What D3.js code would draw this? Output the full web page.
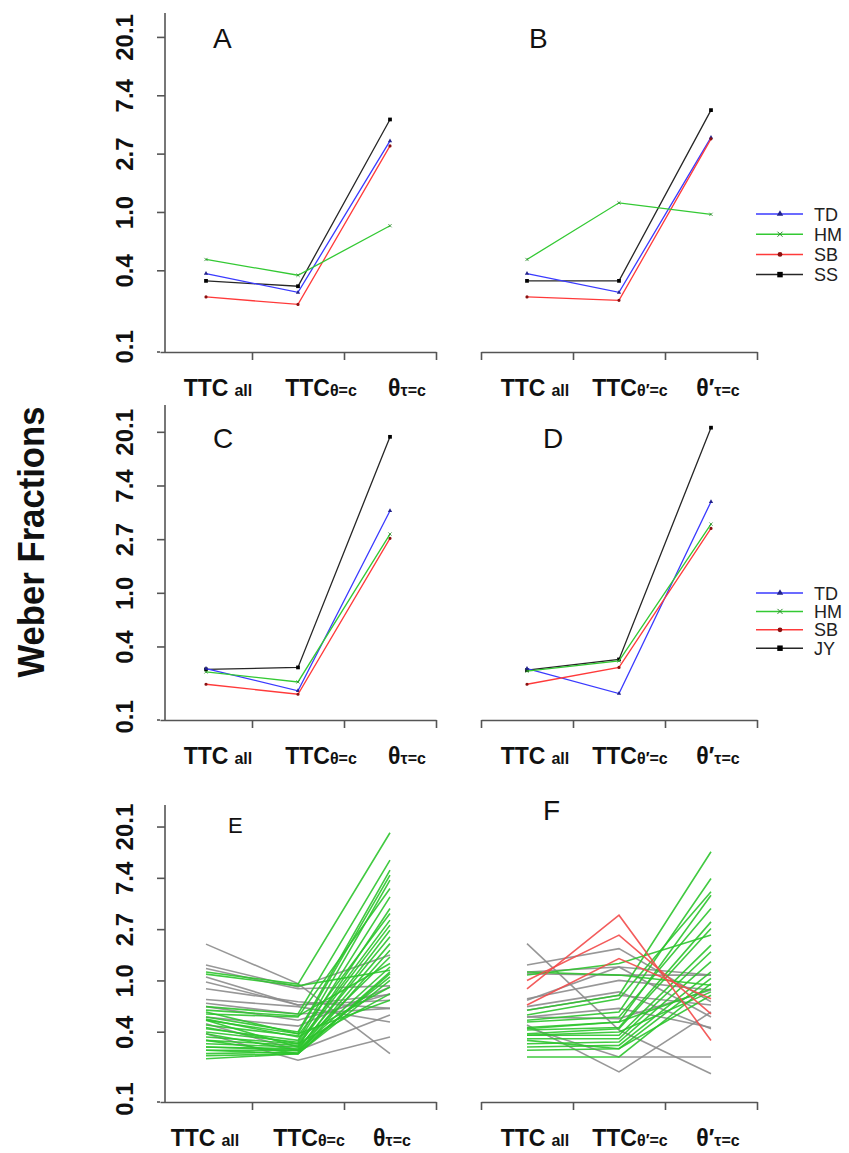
<!DOCTYPE html>
<html>
<head>
<meta charset="utf-8">
<script src="https://cdn.jsdelivr.net/npm/d3@7"></script>
<style>
  body { margin: 0; background: #fff; }
  svg { display: block; font-family: "Liberation Sans", Arial, sans-serif; }
</style>
</head>
<body>
<div id="chart"></div>
<script>
// ---- data ----
// y tick labels (log scale, Weber fractions)
var yTickValues = [0.1, 0.368, 1, 2.718, 7.389, 20.09];

// x categories (label = big part + subscript part)
var leftLabels  = [["TTC", "all"], ["TTC", "θ=c"], ["θ", "τ=c"]];
var rightLabels = [["TTC", "all"], ["TTC", "θ′=c"], ["θ′", "τ=c"]];

var subjectsAB = ["TD", "HM", "SB", "SS"];
var subjectsCD = ["TD", "HM", "SB", "JY"];

// one row per subject: [TTC all, TTC const, theta const]
var panelA = [[0.348, 0.252, 3.38], [0.443, 0.338, 0.79], [0.233, 0.205, 3.10], [0.307, 0.280, 4.88]];
var panelB = [[0.348, 0.252, 3.59], [0.443, 1.17, 0.96], [0.233, 0.220, 3.50], [0.307, 0.307, 5.73]];
var panelC = [[0.244, 0.161, 4.61], [0.229, 0.190, 2.99], [0.182, 0.151, 2.76], [0.240, 0.249, 18.3]];
var panelD = [[0.244, 0.153, 5.46], [0.232, 0.281, 3.60], [0.182, 0.249, 3.32], [0.237, 0.289, 21.7]];

// panel E
var eGray = [
  [2.03, 0.94, 0.24], [1.35, 0.88, 1.64], [1.26, 0.85, 0.90], [1.07, 0.62, 0.68],
  [0.97, 0.62, 0.76], [0.85, 0.66, 0.58], [0.69, 0.60, 0.445], [0.64, 0.52, 0.58],
  [0.60, 0.46, 0.77], [0.43, 0.256, 0.51], [0.354, 0.211, 0.332], [0.49, 0.41, 0.88]
];
var eGreen = [
  [1.18, 0.93, 17.8], [1.13, 0.90, 1.22], [0.60, 0.52, 10.45], [0.56, 0.50, 1.39],
  [0.52, 0.49, 6.0], [0.49, 0.366, 8.6], [0.46, 0.354, 7.8], [0.42, 0.34, 3.69],
  [0.39, 0.311, 7.07], [0.366, 0.30, 5.1], [0.332, 0.291, 3.24], [0.311, 0.282, 2.94],
  [0.291, 0.273, 4.06], [0.273, 0.264, 2.34], [0.256, 0.256, 2.66], [0.24, 0.248, 2.05],
  [0.217, 0.24, 1.80], [0.46, 0.273, 1.58], [0.354, 0.256, 1.30], [0.311, 0.24, 1.14],
  [0.273, 0.256, 1.07], [0.256, 0.24, 1.00], [0.47, 0.332, 0.88], [0.40, 0.291, 0.77],
  [0.54, 0.354, 0.68], [0.23, 0.24, 1.18]
];

// panel F
var fGray = [
  [2.05, 0.38, 0.162], [1.35, 1.86, 0.66], [1.18, 1.30, 1.11], [1.14, 1.11, 1.11],
  [0.70, 1.00, 0.83], [0.68, 1.30, 0.49], [0.60, 0.80, 0.39], [0.56, 0.75, 0.62],
  [0.49, 0.475, 0.83], [0.42, 0.168, 0.54], [0.40, 0.225, 0.225], [0.49, 0.58, 0.40]
];
var fGreen = [
  [1.18, 1.11, 0.91], [1.11, 1.39, 2.42], [0.56, 0.75, 12.3], [0.51, 0.70, 5.63],
  [0.46, 0.54, 7.3], [0.445, 0.49, 4.07], [0.40, 0.445, 5.27], [0.38, 0.40, 3.13],
  [0.354, 0.39, 2.75], [0.343, 0.343, 1.99], [0.321, 0.321, 1.75], [0.291, 0.301, 1.44],
  [0.273, 0.282, 1.18], [0.256, 0.264, 1.04], [0.225, 0.225, 0.94], [0.343, 0.366, 0.80],
  [0.311, 0.264, 0.75], [0.39, 0.445, 0.85]
];
var fRed = [[0.85, 3.57, 0.31], [1.00, 2.42, 0.52], [0.62, 1.53, 0.70]];

// ---- layout ----
var W = 849, H = 1153;
var subjColors = ["#3a3aff", "#33c933", "#ff3a3a", "#262626"];
var subjMarks  = [d3.symbolTriangle, d3.symbolX, d3.symbolCircle, d3.symbolSquare];

var rows = [
  { top: 13,  bottom: 352,  ln: [-2.40, 3.41] },
  { top: 405, bottom: 720,  ln: [-2.37, 3.50] },
  { top: 805, bottom: 1102, ln: [-2.37, 3.42] }
];
var sides = {
  L: { x0: 160, x1: 436, yAxisX: 165 },
  R: { x0: 481, x1: 757, yAxisX: null }
};

var panels = [
  { row: 0, side: "L", letter: "A", lx: 213, ly: 48,  lsize: 28, subj: panelA, names: subjectsAB, shift: [12, 23, 17] },
  { row: 0, side: "R", letter: "B", lx: 529, ly: 48,  lsize: 28, subj: panelB, names: subjectsAB, shift: [8, 11, 7], legend: { y0: 214, dy: 20.2 } },
  { row: 1, side: "L", letter: "C", lx: 213, ly: 448, lsize: 28, subj: panelC, names: subjectsCD, shift: [12, 23, 17] },
  { row: 1, side: "R", letter: "D", lx: 543, ly: 448, lsize: 28, subj: panelD, names: subjectsCD, shift: [8, 11, 7], legend: { y0: 593, dy: 18.4 } },
  { row: 2, side: "L", letter: "E", lx: 228, ly: 833, lsize: 22, gray: eGray, green: eGreen, red: [], shift: [-1, 11, 2] },
  { row: 2, side: "R", letter: "F", lx: 543, ly: 820, lsize: 28, gray: fGray, green: fGreen, red: fRed, shift: [8, 11, 7] }
];

var svg = d3.select("#chart").append("svg")
    .attr("width", W)
    .attr("height", H);

svg.append("rect").attr("width", W).attr("height", H).attr("fill", "#fff");

// big y title
svg.append("text")
    .attr("transform", "translate(44,542) rotate(-90)")
    .attr("text-anchor", "middle")
    .attr("font-size", 37)
    .attr("font-weight", "bold")
    .attr("textLength", 271)
    .attr("lengthAdjust", "spacingAndGlyphs")
    .attr("fill", "#111")
    .text("Weber Fractions");

panels.forEach(function(p) {
  var r = rows[p.row], s = sides[p.side];
  var g = svg.append("g");

  var x = d3.scaleLinear().domain([0, 3]).range([s.x0, s.x1]);
  var y = d3.scaleLog()
      .domain([Math.exp(r.ln[0]), Math.exp(r.ln[1])])
      .range([r.bottom, r.top]);

  // x axis
  var xAxis = g.append("g")
      .attr("transform", "translate(0," + r.bottom + ")")
      .call(d3.axisBottom(x)
        .tickValues(p.side == "L" ? [1, 2, 3] : [0, 1, 2, 3])
        .tickSize(8).tickSizeOuter(0).tickFormat(""));
  xAxis.selectAll("path, line").attr("stroke", "#555").attr("stroke-width", 1.6);

  // y axis (left panels only)
  if (s.yAxisX !== null) {
    var yAxis = g.append("g")
        .attr("transform", "translate(" + s.yAxisX + ",0)")
        .call(d3.axisLeft(y)
          .tickValues(yTickValues)
          .tickSize(8).tickSizeOuter(0)
          .tickFormat(d3.format(".1f")));
    yAxis.selectAll("path, line").attr("stroke", "#555").attr("stroke-width", 1.6);
    yAxis.select(".domain").attr("d", "M0," + r.bottom + "V" + r.top);
    yAxis.selectAll(".tick line").filter(function(d) { return d < 0.2; }).remove();
    yAxis.selectAll(".tick text")
        .attr("transform", "rotate(-90)")
        .attr("x", 0).attr("y", -32).attr("dy", 0)
        .attr("text-anchor", "middle")
        .attr("font-size", 24)
        .attr("font-weight", "bold")
        .attr("font-family", "'Liberation Sans', Arial, sans-serif")
        .attr("fill", "#111");
    // corner: bottom tick joins the x axis
    g.append("line")
        .attr("x1", s.yAxisX - 8).attr("x2", s.x0)
        .attr("y1", r.bottom).attr("y2", r.bottom)
        .attr("stroke", "#555").attr("stroke-width", 1.6);
  }

  // x category labels
  var labels = p.side == "L" ? leftLabels : rightLabels;
  labels.forEach(function(lab, i) {
    var t = g.append("text")
        .attr("x", x(i + 0.5) + p.shift[i])
        .attr("y", r.bottom + 44)
        .attr("text-anchor", "middle")
        .attr("font-weight", "bold")
        .attr("fill", "#111");
    t.append("tspan").attr("font-size", 23).text(lab[0]);
    t.append("tspan").attr("font-size", 16)
        .attr("dx", lab[1] == "all" ? 6 : 0)
        .text(lab[1]);
  });

  // panel letter
  g.append("text")
      .attr("x", p.lx).attr("y", p.ly)
      .attr("font-size", p.lsize)
      .attr("fill", "#111")
      .text(p.letter);

  var line = d3.line()
      .x(function(d, i) { return x(i + 0.5); })
      .y(function(d) { return y(d); });

  if (p.subj) {
    // draw black last (on top), then others
    var order = [3, 0, 2, 1];
    order.forEach(function(k) {
      var vals = p.subj[k];
      g.append("path")
          .attr("d", line(vals))
          .attr("fill", "none")
          .attr("stroke", subjColors[k])
          .attr("stroke-width", 1.3);
      g.selectAll(null)
          .data(vals)
          .enter()
          .append("path")
          .attr("transform", function(d, i) { return "translate(" + x(i + 0.5) + "," + y(d) + ")"; })
          .attr("d", d3.symbol().type(subjMarks[k]).size(k == 3 ? 14 : 8))
          .attr("fill", k == 1 ? "none" : (k == 2 ? "#8a1010" : (k == 0 ? "#22228a" : "#000")))
          .attr("stroke", k == 1 ? "#2a8a2a" : "none")
          .attr("stroke-width", 0.8);
    });

    if (p.legend) {
      p.names.forEach(function(name, k) {
        var ly = p.legend.y0 + k * p.legend.dy;
        g.append("line")
            .attr("x1", 756).attr("x2", 803)
            .attr("y1", ly).attr("y2", ly)
            .attr("stroke", subjColors[k]).attr("stroke-width", 1.5);
        g.append("path")
            .attr("transform", "translate(780," + ly + ")")
            .attr("d", d3.symbol().type(subjMarks[k]).size(k == 3 ? 30 : 18))
            .attr("fill", k == 1 ? "none" : (k == 2 ? "#8a1010" : (k == 0 ? "#22228a" : "#000")))
            .attr("stroke", k == 1 ? "#2a8a2a" : "none")
            .attr("stroke-width", 1);
        g.append("text")
            .attr("x", 814).attr("y", ly + 6.5)
            .attr("font-size", 18)
            .attr("fill", "#222")
            .text(name);
      });
    }
  } else {
    var groups = [[p.gray, "#8c8c8c"], [p.green, "#2cc42c"], [p.red, "#f24a4a"]];
    groups.forEach(function(gr) {
      g.append("g")
          .selectAll("path")
          .data(gr[0])
          .enter()
          .append("path")
          .attr("d", line)
          .attr("fill", "none")
          .attr("stroke", gr[1])
          .attr("stroke-width", 1.6)
          .attr("stroke-opacity", 0.9);
    });
  }
});
</script>
</body>
</html>
